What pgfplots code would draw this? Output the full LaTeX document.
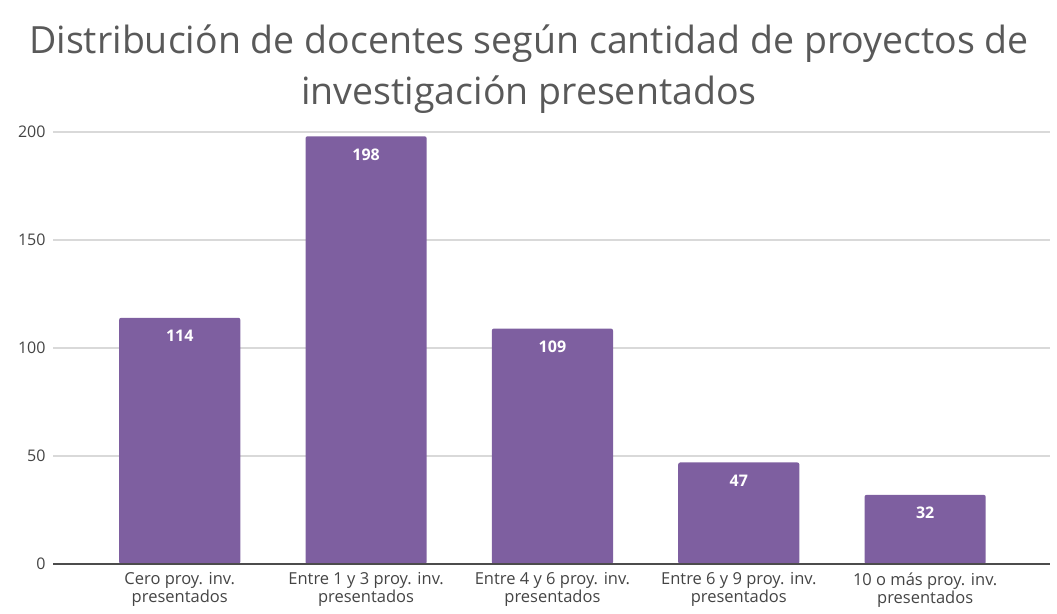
\documentclass[border=0pt]{standalone}
\usepackage{pgfplots}
\pgfplotsset{compat=1.18}
\usepackage{fontspec}
\setmainfont{Open Sans}
\newfontfamily\titlefont{Open Sans}
\definecolor{barc}{RGB}{126,95,160}
\definecolor{gridc}{RGB}{217,217,217}
\definecolor{txtc}{RGB}{68,68,68}
\definecolor{titc}{RGB}{89,89,89}
\begin{document}
\begin{tikzpicture}[x=1pt,y=1pt]
\useasboundingbox (0,0) rectangle (1057,613);
\node[font=\titlefont\fontsize{37.5}{51}\selectfont, text=titc, align=center] at (529,544)
  {Distribución de docentes según cantidad de proyectos de\\investigación presentados};
\begin{axis}[
  at={(53pt,49pt)}, anchor=south west,
  scale only axis, width=997pt, height=432pt,
  xmin=-0.68, xmax=4.67, ymin=0, ymax=200,
  ytick={0,50,100,150,200},
  xtick=data,
  xticklabels={{Cero proy. inv.\\presentados},{Entre 1 y 3 proy. inv.\\presentados},{Entre 4 y 6 proy. inv.\\presentados},{Entre 6 y 9 proy. inv.\\presentados},{10 o más proy. inv.\\presentados}},
  xticklabel style={align=center, font=\fontsize{16.5}{18}\selectfont, text=txtc, yshift=-5pt},
  yticklabel style={font=\fontsize{16}{18}\selectfont, text=txtc, xshift=-4pt},
  /pgf/number format/assume math mode=true,
  axis line style={draw=none},
  major tick length=0pt,
  ymajorgrids, grid style={gridc, line width=1.2pt},
  ybar, bar width=0.65,
  clip=false,
  nodes near coords,
  every node near coord/.append style={anchor=north, yshift=-9pt, text=white, font=\bfseries\fontsize{16}{18}\selectfont},
]
\addplot[fill=barc, draw=none, bar shift=0pt, rounded corners=2pt] coordinates {(0,114) (1,198) (2,109) (3,47) (4,32)};
\draw[color=black!70, line width=1.2pt] (axis cs:-0.68,0) -- (axis cs:4.67,0);
\end{axis}
\end{tikzpicture}
\end{document}
